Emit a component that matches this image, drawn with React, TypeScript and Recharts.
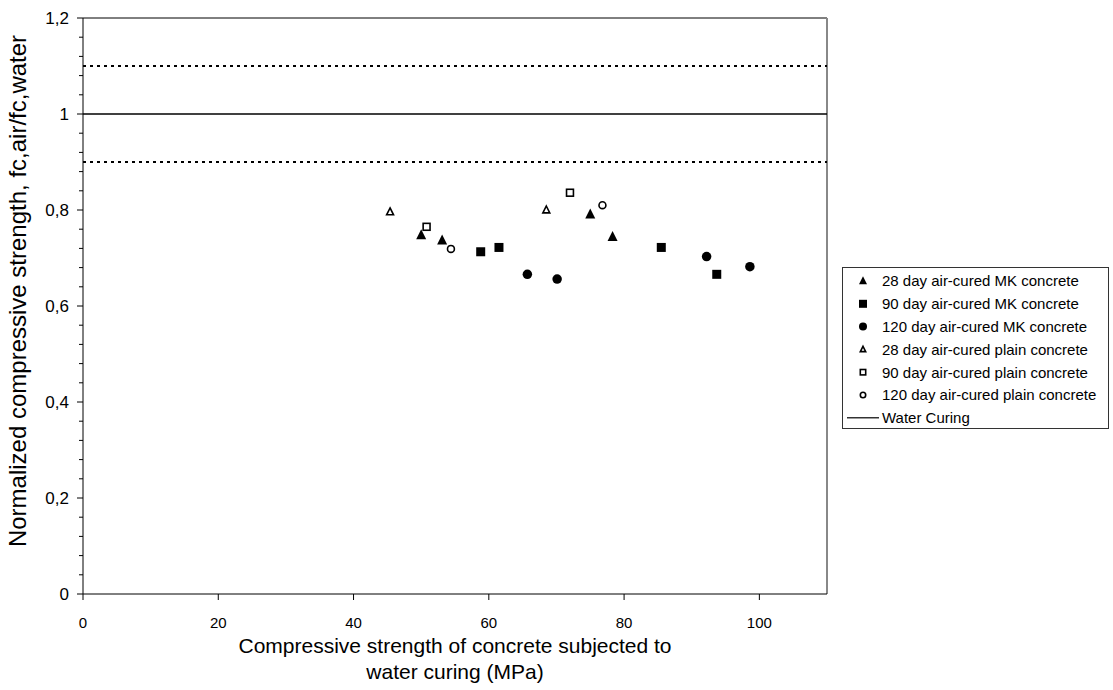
import React from 'react';
import { ScatterChart, Scatter, XAxis, YAxis, ReferenceLine, Label } from 'recharts';

const FONT = '"Liberation Sans", Arial, Helvetica, sans-serif';

// Series values (x = compressive strength under water curing, y = normalized strength)
const mk28 = [
  { x: 50.0, y: 0.748 },
  { x: 53.1, y: 0.737 },
  { x: 75.0, y: 0.791 },
  { x: 78.3, y: 0.744 },
];
const mk90 = [
  { x: 58.8, y: 0.713 },
  { x: 61.5, y: 0.722 },
  { x: 85.5, y: 0.722 },
  { x: 93.7, y: 0.666 },
];
const mk120 = [
  { x: 65.7, y: 0.666 },
  { x: 70.1, y: 0.656 },
  { x: 92.2, y: 0.703 },
  { x: 98.6, y: 0.682 },
];
const plain28 = [
  { x: 45.4, y: 0.796 },
  { x: 68.5, y: 0.8 },
];
const plain90 = [
  { x: 50.8, y: 0.765 },
  { x: 72.0, y: 0.836 },
];
const plain120 = [
  { x: 54.4, y: 0.719 },
  { x: 76.8, y: 0.81 },
];

const waterCuringLevel = 1;
const bandLevels = [0.9, 1.1];

const xTicks = [0, 20, 40, 60, 80, 100];
const yTicks = [
  0, 0.04, 0.08, 0.12, 0.16, 0.2, 0.24, 0.28, 0.32, 0.36, 0.4, 0.44, 0.48, 0.52, 0.56, 0.6,
  0.64, 0.68, 0.72, 0.76, 0.8, 0.84, 0.88, 0.92, 0.96, 1, 1.04, 1.08, 1.12, 1.16, 1.2,
];
const yMajorLabels: Record<string, string> = {
  '0': '0',
  '0.2': '0,2',
  '0.4': '0,4',
  '0.6': '0,6',
  '0.8': '0,8',
  '1': '1',
  '1.2': '1,2',
};

const seriesNames = [
  '28 day air-cured MK concrete',
  '90 day air-cured MK concrete',
  '120 day air-cured MK concrete',
  '28 day air-cured plain concrete',
  '90 day air-cured plain concrete',
  '120 day air-cured plain concrete',
  'Water Curing',
];

type Kind = 'triangle' | 'square' | 'circle';

function drawMarker(kind: Kind, filled: boolean, cx: number, cy: number, s: number, key?: string) {
  const fill = filled ? '#000' : '#fff';
  const stroke = '#000';
  const sw = filled ? 0 : 1.6;
  const g = filled ? s : s - 1.6;
  if (kind === 'triangle') {
    const pts = `${cx},${cy - g * 0.58} ${cx + g / 2},${cy + g * 0.42} ${cx - g / 2},${cy + g * 0.42}`;
    return <polygon key={key} points={pts} fill={fill} stroke={stroke} strokeWidth={sw} strokeLinejoin="miter" />;
  }
  if (kind === 'square') {
    return <rect key={key} x={cx - g / 2} y={cy - g / 2} width={g} height={g} fill={fill} stroke={stroke} strokeWidth={sw} />;
  }
  return <circle key={key} cx={cx} cy={cy} r={g / 2} fill={fill} stroke={stroke} strokeWidth={sw} />;
}

const makeShape = (kind: Kind, filled: boolean, size: number) => (props: any) => {
  const { cx, cy } = props;
  if (cx == null || cy == null) return <g />;
  return drawMarker(kind, filled, cx, cy, size);
};

const seriesDefs: { data: { x: number; y: number }[]; kind: Kind; filled: boolean; size: number }[] = [
  { data: mk28, kind: 'triangle', filled: true, size: 10 },
  { data: mk90, kind: 'square', filled: true, size: 9 },
  { data: mk120, kind: 'circle', filled: true, size: 9.5 },
  { data: plain28, kind: 'triangle', filled: false, size: 8.5 },
  { data: plain90, kind: 'square', filled: false, size: 8.5 },
  { data: plain120, kind: 'circle', filled: false, size: 8.5 },
];

const YTick = (props: any) => {
  const { x, y, payload } = props;
  const v = payload.value as number;
  const key = String(Math.round(v * 100) / 100);
  const label = yMajorLabels[key];
  const major = label !== undefined;
  return (
    <g>
      <line x1={x - (major ? 6 : 4)} x2={x} y1={y} y2={y} stroke="#000" strokeWidth={1} />
      {major && (
        <text x={x - 14} y={y} dy="0.36em" textAnchor="end" fontSize={17} fontFamily={FONT} fill="#000">
          {label}
        </text>
      )}
    </g>
  );
};

const LegendBox = () => {
  const rowH = 22.8;
  return (
    <div
      style={{
        position: 'absolute',
        left: 842,
        top: 267,
        width: 267,
        height: 162,
        border: '1px solid #333',
        boxSizing: 'border-box',
        background: '#fff',
      }}
    >
      <svg width={265} height={160} style={{ display: 'block' }}>
        {seriesNames.map((name, i) => {
          const cy = 13 + i * rowH;
          const def = seriesDefs[i];
          return (
            <g key={name}>
              {def ? (
                drawMarker(def.kind, def.filled, 20, cy, def.filled ? 8 : 7)
              ) : (
                <line x1={4} x2={36} y1={cy} y2={cy} stroke="#000" strokeWidth={1.2} />
              )}
              <text x={39} y={cy} dy="0.36em" fontSize={15} fontFamily={FONT} fill="#000">
                {name}
              </text>
            </g>
          );
        })}
      </svg>
    </div>
  );
};

const XTitle = (props: any) => {
  const vb = props.viewBox || {};
  const cx = vb.x + vb.width / 2;
  return (
    <text textAnchor="middle" fontSize={21} fontFamily={FONT} fill="#000">
      <tspan x={cx} y={653}>Compressive strength of concrete subjected to</tspan>
      <tspan x={cx} y={679}>water curing (MPa)</tspan>
    </text>
  );
};

const YTitle = (props: any) => {
  const vb = props.viewBox || {};
  const cy = vb.y + vb.height / 2 - 15;
  return (
    <text
      x={26}
      y={cy}
      textAnchor="middle"
      fontSize={24}
      fontFamily={FONT}
      fill="#000"
      transform={`rotate(-90, 26, ${cy})`}
    >
      Normalized compressive strength, fc,air/fc,water
    </text>
  );
};

export default function App() {
  return (
    <div style={{ position: 'absolute', left: 0, top: 0, width: 1113, height: 690, background: '#fff' }}>
      <ScatterChart width={1113} height={690} margin={{ top: 18, right: 286, bottom: 66, left: 23 }}>
        <XAxis
          type="number"
          dataKey="x"
          domain={[0, 110]}
          ticks={xTicks}
          allowDataOverflow
          stroke="#000"
          tickSize={6}
          tickMargin={17}
          height={30}
          tick={{ fontSize: 15, fontFamily: FONT, fill: '#000' }}
          tickLine={{ stroke: '#000' }}
        >
          <Label content={<XTitle />} />
        </XAxis>
        <YAxis
          type="number"
          dataKey="y"
          domain={[0, 1.2]}
          ticks={yTicks}
          allowDataOverflow
          interval={0}
          width={60}
          stroke="#000"
          tickSize={0}
          tickMargin={0}
          tickLine={false}
          tick={<YTick />}
        >
          <Label content={<YTitle />} />
        </YAxis>
        <ReferenceLine y={1.2} stroke="#000" strokeWidth={1} />
        <ReferenceLine x={110} stroke="#888" strokeWidth={2} />
        {bandLevels.map((lv) => (
          <ReferenceLine key={lv} y={lv} stroke="#000" strokeWidth={2} strokeDasharray="3 4" />
        ))}
        <ReferenceLine y={waterCuringLevel} stroke="#000" strokeWidth={1.5} />
        {seriesDefs.map((d, i) => (
          <Scatter
            key={seriesNames[i]}
            name={seriesNames[i]}
            data={d.data}
            shape={makeShape(d.kind, d.filled, d.size)}
            isAnimationActive={false}
          />
        ))}
      </ScatterChart>
      <LegendBox />
    </div>
  );
}
